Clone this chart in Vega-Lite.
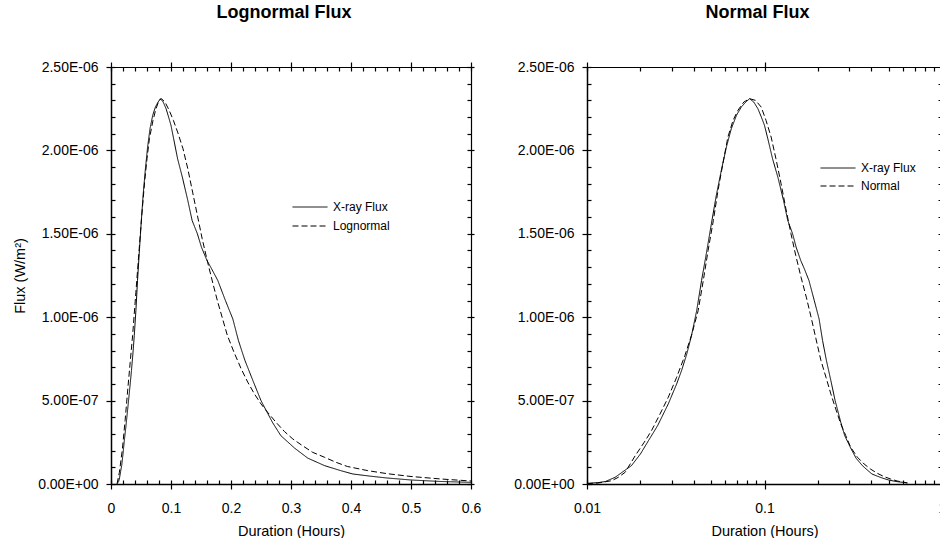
{
  "$schema": "https://vega.github.io/schema/vega-lite/v6.json",
  "padding": {"left": 12, "top": 4, "right": 0, "bottom": 0},
  "spacing": 32,
  "background": "white",
  "datasets": {
    "xray": [
      {"t": 0.0100, "F": 0.004e-6, "series": "X-ray Flux"},
      {"t": 0.0115, "F": 0.008e-6, "series": "X-ray Flux"},
      {"t": 0.0127, "F": 0.015e-6, "series": "X-ray Flux"},
      {"t": 0.0144, "F": 0.04e-6, "series": "X-ray Flux"},
      {"t": 0.0160, "F": 0.075e-6, "series": "X-ray Flux"},
      {"t": 0.0178, "F": 0.11e-6, "series": "X-ray Flux"},
      {"t": 0.0200, "F": 0.18e-6, "series": "X-ray Flux"},
      {"t": 0.0222, "F": 0.26e-6, "series": "X-ray Flux"},
      {"t": 0.0250, "F": 0.35e-6, "series": "X-ray Flux"},
      {"t": 0.0287, "F": 0.48e-6, "series": "X-ray Flux"},
      {"t": 0.0320, "F": 0.60e-6, "series": "X-ray Flux"},
      {"t": 0.0341, "F": 0.68e-6, "series": "X-ray Flux"},
      {"t": 0.0365, "F": 0.78e-6, "series": "X-ray Flux"},
      {"t": 0.0388, "F": 0.89e-6, "series": "X-ray Flux"},
      {"t": 0.0415, "F": 1.04e-6, "series": "X-ray Flux"},
      {"t": 0.0442, "F": 1.22e-6, "series": "X-ray Flux"},
      {"t": 0.0470, "F": 1.38e-6, "series": "X-ray Flux"},
      {"t": 0.0502, "F": 1.56e-6, "series": "X-ray Flux"},
      {"t": 0.0535, "F": 1.73e-6, "series": "X-ray Flux"},
      {"t": 0.0571, "F": 1.88e-6, "series": "X-ray Flux"},
      {"t": 0.0610, "F": 2.02e-6, "series": "X-ray Flux"},
      {"t": 0.0650, "F": 2.13e-6, "series": "X-ray Flux"},
      {"t": 0.0695, "F": 2.21e-6, "series": "X-ray Flux"},
      {"t": 0.0740, "F": 2.26e-6, "series": "X-ray Flux"},
      {"t": 0.0785, "F": 2.29e-6, "series": "X-ray Flux"},
      {"t": 0.0824, "F": 2.31e-6, "series": "X-ray Flux"},
      {"t": 0.0870, "F": 2.29e-6, "series": "X-ray Flux"},
      {"t": 0.0918, "F": 2.25e-6, "series": "X-ray Flux"},
      {"t": 0.0960, "F": 2.20e-6, "series": "X-ray Flux"},
      {"t": 0.1000, "F": 2.15e-6, "series": "X-ray Flux"},
      {"t": 0.1044, "F": 2.07e-6, "series": "X-ray Flux"},
      {"t": 0.1110, "F": 1.95e-6, "series": "X-ray Flux"},
      {"t": 0.1189, "F": 1.84e-6, "series": "X-ray Flux"},
      {"t": 0.1280, "F": 1.70e-6, "series": "X-ray Flux"},
      {"t": 0.1352, "F": 1.58e-6, "series": "X-ray Flux"},
      {"t": 0.1440, "F": 1.50e-6, "series": "X-ray Flux"},
      {"t": 0.1507, "F": 1.42e-6, "series": "X-ray Flux"},
      {"t": 0.1600, "F": 1.34e-6, "series": "X-ray Flux"},
      {"t": 0.1677, "F": 1.29e-6, "series": "X-ray Flux"},
      {"t": 0.1780, "F": 1.22e-6, "series": "X-ray Flux"},
      {"t": 0.1907, "F": 1.10e-6, "series": "X-ray Flux"},
      {"t": 0.2030, "F": 0.99e-6, "series": "X-ray Flux"},
      {"t": 0.2124, "F": 0.86e-6, "series": "X-ray Flux"},
      {"t": 0.2233, "F": 0.74e-6, "series": "X-ray Flux"},
      {"t": 0.2365, "F": 0.62e-6, "series": "X-ray Flux"},
      {"t": 0.2500, "F": 0.50e-6, "series": "X-ray Flux"},
      {"t": 0.2690, "F": 0.37e-6, "series": "X-ray Flux"},
      {"t": 0.2830, "F": 0.29e-6, "series": "X-ray Flux"},
      {"t": 0.3060, "F": 0.215e-6, "series": "X-ray Flux"},
      {"t": 0.3280, "F": 0.155e-6, "series": "X-ray Flux"},
      {"t": 0.3560, "F": 0.11e-6, "series": "X-ray Flux"},
      {"t": 0.3830, "F": 0.08e-6, "series": "X-ray Flux"},
      {"t": 0.4030, "F": 0.06e-6, "series": "X-ray Flux"},
      {"t": 0.4320, "F": 0.047e-6, "series": "X-ray Flux"},
      {"t": 0.4600, "F": 0.036e-6, "series": "X-ray Flux"},
      {"t": 0.5000, "F": 0.024e-6, "series": "X-ray Flux"},
      {"t": 0.5500, "F": 0.015e-6, "series": "X-ray Flux"},
      {"t": 0.6000, "F": 0.010e-6, "series": "X-ray Flux"},
      {"t": 0.6360, "F": 0.007e-6, "series": "X-ray Flux"}
    ],
    "lognormal": [
      {"t": 0.0100, "F": 0.0, "series": "Lognormal"},
      {"t": 0.0140, "F": 0.07e-6, "series": "Lognormal"},
      {"t": 0.0190, "F": 0.21e-6, "series": "Lognormal"},
      {"t": 0.0235, "F": 0.38e-6, "series": "Lognormal"},
      {"t": 0.0280, "F": 0.57e-6, "series": "Lognormal"},
      {"t": 0.0320, "F": 0.73e-6, "series": "Lognormal"},
      {"t": 0.0360, "F": 0.89e-6, "series": "Lognormal"},
      {"t": 0.0415, "F": 1.15e-6, "series": "Lognormal"},
      {"t": 0.0470, "F": 1.41e-6, "series": "Lognormal"},
      {"t": 0.0515, "F": 1.62e-6, "series": "Lognormal"},
      {"t": 0.0560, "F": 1.81e-6, "series": "Lognormal"},
      {"t": 0.0600, "F": 1.95e-6, "series": "Lognormal"},
      {"t": 0.0640, "F": 2.07e-6, "series": "Lognormal"},
      {"t": 0.0700, "F": 2.18e-6, "series": "Lognormal"},
      {"t": 0.0750, "F": 2.25e-6, "series": "Lognormal"},
      {"t": 0.0800, "F": 2.30e-6, "series": "Lognormal"},
      {"t": 0.0840, "F": 2.31e-6, "series": "Lognormal"},
      {"t": 0.0900, "F": 2.29e-6, "series": "Lognormal"},
      {"t": 0.0970, "F": 2.24e-6, "series": "Lognormal"},
      {"t": 0.1040, "F": 2.18e-6, "series": "Lognormal"},
      {"t": 0.1110, "F": 2.11e-6, "series": "Lognormal"},
      {"t": 0.1200, "F": 2.01e-6, "series": "Lognormal"},
      {"t": 0.1280, "F": 1.89e-6, "series": "Lognormal"},
      {"t": 0.1360, "F": 1.75e-6, "series": "Lognormal"},
      {"t": 0.1440, "F": 1.61e-6, "series": "Lognormal"},
      {"t": 0.1520, "F": 1.47e-6, "series": "Lognormal"},
      {"t": 0.1610, "F": 1.33e-6, "series": "Lognormal"},
      {"t": 0.1700, "F": 1.20e-6, "series": "Lognormal"},
      {"t": 0.1780, "F": 1.09e-6, "series": "Lognormal"},
      {"t": 0.1860, "F": 0.99e-6, "series": "Lognormal"},
      {"t": 0.1940, "F": 0.89e-6, "series": "Lognormal"},
      {"t": 0.2050, "F": 0.79e-6, "series": "Lognormal"},
      {"t": 0.2170, "F": 0.69e-6, "series": "Lognormal"},
      {"t": 0.2280, "F": 0.61e-6, "series": "Lognormal"},
      {"t": 0.2390, "F": 0.54e-6, "series": "Lognormal"},
      {"t": 0.2500, "F": 0.48e-6, "series": "Lognormal"},
      {"t": 0.2610, "F": 0.43e-6, "series": "Lognormal"},
      {"t": 0.2750, "F": 0.37e-6, "series": "Lognormal"},
      {"t": 0.2890, "F": 0.315e-6, "series": "Lognormal"},
      {"t": 0.3030, "F": 0.27e-6, "series": "Lognormal"},
      {"t": 0.3170, "F": 0.235e-6, "series": "Lognormal"},
      {"t": 0.3360, "F": 0.19e-6, "series": "Lognormal"},
      {"t": 0.3560, "F": 0.16e-6, "series": "Lognormal"},
      {"t": 0.3750, "F": 0.13e-6, "series": "Lognormal"},
      {"t": 0.3940, "F": 0.105e-6, "series": "Lognormal"},
      {"t": 0.4280, "F": 0.08e-6, "series": "Lognormal"},
      {"t": 0.4600, "F": 0.062e-6, "series": "Lognormal"},
      {"t": 0.5000, "F": 0.045e-6, "series": "Lognormal"},
      {"t": 0.5500, "F": 0.03e-6, "series": "Lognormal"},
      {"t": 0.6000, "F": 0.018e-6, "series": "Lognormal"}
    ],
    "normal": [
      {"t": 0.0100, "F": 0.002e-6, "series": "Normal"},
      {"t": 0.0116, "F": 0.006e-6, "series": "Normal"},
      {"t": 0.0138, "F": 0.02e-6, "series": "Normal"},
      {"t": 0.0150, "F": 0.04e-6, "series": "Normal"},
      {"t": 0.0164, "F": 0.07e-6, "series": "Normal"},
      {"t": 0.0187, "F": 0.17e-6, "series": "Normal"},
      {"t": 0.0210, "F": 0.25e-6, "series": "Normal"},
      {"t": 0.0231, "F": 0.32e-6, "series": "Normal"},
      {"t": 0.0258, "F": 0.42e-6, "series": "Normal"},
      {"t": 0.0287, "F": 0.52e-6, "series": "Normal"},
      {"t": 0.0320, "F": 0.64e-6, "series": "Normal"},
      {"t": 0.0356, "F": 0.77e-6, "series": "Normal"},
      {"t": 0.0390, "F": 0.90e-6, "series": "Normal"},
      {"t": 0.0423, "F": 1.04e-6, "series": "Normal"},
      {"t": 0.0452, "F": 1.22e-6, "series": "Normal"},
      {"t": 0.0481, "F": 1.40e-6, "series": "Normal"},
      {"t": 0.0515, "F": 1.58e-6, "series": "Normal"},
      {"t": 0.0547, "F": 1.76e-6, "series": "Normal"},
      {"t": 0.0585, "F": 1.93e-6, "series": "Normal"},
      {"t": 0.0622, "F": 2.08e-6, "series": "Normal"},
      {"t": 0.0665, "F": 2.18e-6, "series": "Normal"},
      {"t": 0.0708, "F": 2.24e-6, "series": "Normal"},
      {"t": 0.0765, "F": 2.29e-6, "series": "Normal"},
      {"t": 0.0824, "F": 2.31e-6, "series": "Normal"},
      {"t": 0.0890, "F": 2.30e-6, "series": "Normal"},
      {"t": 0.0958, "F": 2.26e-6, "series": "Normal"},
      {"t": 0.1020, "F": 2.18e-6, "series": "Normal"},
      {"t": 0.1090, "F": 2.08e-6, "series": "Normal"},
      {"t": 0.1160, "F": 1.95e-6, "series": "Normal"},
      {"t": 0.1240, "F": 1.80e-6, "series": "Normal"},
      {"t": 0.1320, "F": 1.65e-6, "series": "Normal"},
      {"t": 0.1410, "F": 1.50e-6, "series": "Normal"},
      {"t": 0.1500, "F": 1.37e-6, "series": "Normal"},
      {"t": 0.1606, "F": 1.24e-6, "series": "Normal"},
      {"t": 0.1720, "F": 1.12e-6, "series": "Normal"},
      {"t": 0.1830, "F": 1.00e-6, "series": "Normal"},
      {"t": 0.1950, "F": 0.87e-6, "series": "Normal"},
      {"t": 0.2080, "F": 0.74e-6, "series": "Normal"},
      {"t": 0.2220, "F": 0.64e-6, "series": "Normal"},
      {"t": 0.2365, "F": 0.54e-6, "series": "Normal"},
      {"t": 0.2520, "F": 0.45e-6, "series": "Normal"},
      {"t": 0.2690, "F": 0.36e-6, "series": "Normal"},
      {"t": 0.2870, "F": 0.29e-6, "series": "Normal"},
      {"t": 0.3060, "F": 0.22e-6, "series": "Normal"},
      {"t": 0.3340, "F": 0.16e-6, "series": "Normal"},
      {"t": 0.3640, "F": 0.12e-6, "series": "Normal"},
      {"t": 0.3950, "F": 0.09e-6, "series": "Normal"},
      {"t": 0.4320, "F": 0.064e-6, "series": "Normal"},
      {"t": 0.4700, "F": 0.045e-6, "series": "Normal"},
      {"t": 0.5130, "F": 0.03e-6, "series": "Normal"},
      {"t": 0.5600, "F": 0.018e-6, "series": "Normal"},
      {"t": 0.6100, "F": 0.01e-6, "series": "Normal"},
      {"t": 0.6400, "F": 0.006e-6, "series": "Normal"}
    ]
  },
  "resolve": {
    "scale": {"x": "independent", "y": "independent", "strokeDash": "independent"},
    "legend": {"strokeDash": "independent"}
  },
  "hconcat": [
    {
      "width": 360,
      "height": 417,
      "title": {"text": "Lognormal Flux", "fontSize": 18, "fontWeight": "bold", "font": "Liberation Sans", "color": "black", "frame": "group", "anchor": "middle", "dx": -7, "offset": 38},
      "resolve": {"axis": {"x": "independent", "y": "independent"}},
      "layer": [
        {
          "data": {"name": "xray"},
          "mark": {"type": "line", "color": "black", "strokeWidth": 1, "clip": true},
          "encoding": {
            "x": {"field": "t", "type": "quantitative", "scale": {"domain": [0, 0.6], "nice": false, "zero": false},
              "axis": {"orient": "bottom", "values": [0, 0.1, 0.2, 0.3, 0.4, 0.5, 0.6], "format": "~g", "ticks": true, "tickSize": 5, "labelPadding": 12, "title": "Duration (Hours)", "titlePadding": 9, "domain": true, "domainWidth": 1.5}},
            "y": {"field": "F", "type": "quantitative", "scale": {"domain": [0, 2.5e-6], "nice": false},
              "axis": {"orient": "left", "values": [0, 5e-7, 1e-6, 1.5e-6, 2e-6, 2.5e-6], "labelExpr": "datum.value == 0 ? '0.00E+00' : datum.value < 9.9e-7 ? format(datum.value*1e7,'.2f') + 'E-07' : format(datum.value*1e6,'.2f') + 'E-06'", "ticks": true, "tickSize": 5, "labelPadding": 8, "title": "Flux (W/m²)", "titlePadding": 10, "domain": true, "domainWidth": 1.5}},
            "strokeDash": {"field": "series", "type": "nominal",
              "scale": {"domain": ["X-ray Flux", "Lognormal"], "range": [[1, 0], [6, 3]]},
              "legend": {"orient": "none", "legendX": 181, "legendY": 131, "title": null, "symbolType": "stroke", "symbolSize": 1225, "symbolStrokeWidth": 1, "symbolStrokeColor": "black", "clipHeight": 18, "rowPadding": 1, "labelFont": "Liberation Sans", "labelFontSize": 12, "labelColor": "black", "labelOffset": 5, "padding": 0}}
          }
        },
        {
          "data": {"name": "lognormal"},
          "mark": {"type": "line", "color": "black", "strokeWidth": 1, "clip": true},
          "encoding": {
            "x": {"field": "t", "type": "quantitative", "scale": {"domain": [0, 0.6], "nice": false, "zero": false},
              "axis": {"orient": "bottom", "values": [0, 0.02, 0.04, 0.06, 0.08, 0.1, 0.12, 0.14, 0.16, 0.18, 0.2, 0.22, 0.24, 0.26, 0.28, 0.3, 0.32, 0.34, 0.36, 0.38, 0.4, 0.42, 0.44, 0.46, 0.48, 0.5, 0.52, 0.54, 0.56, 0.58, 0.6], "ticks": true, "tickSize": -4, "labels": false, "domain": false, "title": null}},
            "y": {"field": "F", "type": "quantitative", "scale": {"domain": [0, 2.5e-6], "nice": false},
              "axis": {"orient": "left", "values": [0, 1e-7, 2e-7, 3e-7, 4e-7, 5e-7, 6e-7, 7e-7, 8e-7, 9e-7, 1e-6, 1.1e-6, 1.2e-6, 1.3e-6, 1.4e-6, 1.5e-6, 1.6e-6, 1.7e-6, 1.8e-6, 1.9e-6, 2e-6, 2.1e-6, 2.2e-6, 2.3e-6, 2.4e-6, 2.5e-6], "ticks": true, "tickSize": -4, "labels": false, "domain": false, "title": null}},
            "strokeDash": {"field": "series", "type": "nominal"}
          }
        },
        {
          "data": {"values": []},
          "mark": {"type": "point", "opacity": 0},
          "encoding": {
            "x": {"field": "t", "type": "quantitative", "scale": {"domain": [0, 0.6], "nice": false, "zero": false},
              "axis": {"orient": "top", "values": [0, 0.1, 0.2, 0.3, 0.4, 0.5, 0.6], "ticks": true, "tickSize": 5, "labels": false, "domain": true, "domainWidth": 1.2, "title": null}},
            "y": {"field": "F", "type": "quantitative", "scale": {"domain": [0, 2.5e-6], "nice": false},
              "axis": {"orient": "right", "values": [0, 5e-7, 1e-6, 1.5e-6, 2e-6, 2.5e-6], "ticks": true, "tickSize": 3, "labels": false, "domain": true, "domainWidth": 1.2, "title": null}}
          }
        },
        {
          "data": {"values": []},
          "mark": {"type": "point", "opacity": 0},
          "encoding": {
            "x": {"field": "t", "type": "quantitative", "scale": {"domain": [0, 0.6], "nice": false, "zero": false},
              "axis": {"orient": "top", "values": [0, 0.02, 0.04, 0.06, 0.08, 0.1, 0.12, 0.14, 0.16, 0.18, 0.2, 0.22, 0.24, 0.26, 0.28, 0.3, 0.32, 0.34, 0.36, 0.38, 0.4, 0.42, 0.44, 0.46, 0.48, 0.5, 0.52, 0.54, 0.56, 0.58, 0.6], "ticks": true, "tickSize": -4, "labels": false, "domain": false, "title": null}},
            "y": {"field": "F", "type": "quantitative", "scale": {"domain": [0, 2.5e-6], "nice": false},
              "axis": {"orient": "right", "values": [0, 1e-7, 2e-7, 3e-7, 4e-7, 5e-7, 6e-7, 7e-7, 8e-7, 9e-7, 1e-6, 1.1e-6, 1.2e-6, 1.3e-6, 1.4e-6, 1.5e-6, 1.6e-6, 1.7e-6, 1.8e-6, 1.9e-6, 2e-6, 2.1e-6, 2.2e-6, 2.3e-6, 2.4e-6, 2.5e-6], "ticks": true, "tickSize": -4, "labels": false, "domain": false, "title": null}}
          }
        }
      ]
    },
    {
      "width": 355,
      "height": 417,
      "title": {"text": "Normal Flux", "fontSize": 18, "fontWeight": "bold", "font": "Liberation Sans", "color": "black", "frame": "group", "anchor": "middle", "dx": -7, "offset": 38},
      "resolve": {"axis": {"x": "independent", "y": "independent"}},
      "layer": [
        {
          "data": {"name": "xray"},
          "mark": {"type": "line", "color": "black", "strokeWidth": 1, "clip": true},
          "encoding": {
            "x": {"field": "t", "type": "quantitative", "scale": {"type": "log", "domain": [0.01, 1], "nice": false},
              "axis": {"orient": "bottom", "values": [0.01, 0.1, 1], "format": "~g", "ticks": true, "tickSize": 5, "labelPadding": 12, "title": "Duration (Hours)", "titlePadding": 9, "domain": true, "domainWidth": 1.5}},
            "y": {"field": "F", "type": "quantitative", "scale": {"domain": [0, 2.5e-6], "nice": false},
              "axis": {"orient": "left", "values": [0, 5e-7, 1e-6, 1.5e-6, 2e-6, 2.5e-6], "labelExpr": "datum.value == 0 ? '0.00E+00' : datum.value < 9.9e-7 ? format(datum.value*1e7,'.2f') + 'E-07' : format(datum.value*1e6,'.2f') + 'E-06'", "ticks": true, "tickSize": 5, "labelPadding": 8, "title": null, "domain": true, "domainWidth": 1.5}},
            "strokeDash": {"field": "series", "type": "nominal",
              "scale": {"domain": ["X-ray Flux", "Normal"], "range": [[1, 0], [6, 3]]},
              "legend": {"orient": "none", "legendX": 233, "legendY": 92, "title": null, "symbolType": "stroke", "symbolSize": 1225, "symbolStrokeWidth": 1, "symbolStrokeColor": "black", "clipHeight": 18, "rowPadding": 0, "labelFont": "Liberation Sans", "labelFontSize": 12, "labelColor": "black", "labelOffset": 5, "padding": 0}}
          }
        },
        {
          "data": {"name": "normal"},
          "mark": {"type": "line", "color": "black", "strokeWidth": 1, "clip": true},
          "encoding": {
            "x": {"field": "t", "type": "quantitative", "scale": {"type": "log", "domain": [0.01, 1], "nice": false},
              "axis": {"orient": "bottom", "values": [0.01, 0.02, 0.03, 0.04, 0.05, 0.06, 0.07, 0.08, 0.09, 0.1, 0.2, 0.3, 0.4, 0.5, 0.6, 0.7, 0.8, 0.9, 1], "ticks": true, "tickSize": -4, "labels": false, "domain": false, "title": null}},
            "y": {"field": "F", "type": "quantitative", "scale": {"domain": [0, 2.5e-6], "nice": false},
              "axis": {"orient": "left", "values": [0, 1e-7, 2e-7, 3e-7, 4e-7, 5e-7, 6e-7, 7e-7, 8e-7, 9e-7, 1e-6, 1.1e-6, 1.2e-6, 1.3e-6, 1.4e-6, 1.5e-6, 1.6e-6, 1.7e-6, 1.8e-6, 1.9e-6, 2e-6, 2.1e-6, 2.2e-6, 2.3e-6, 2.4e-6, 2.5e-6], "ticks": true, "tickSize": -4, "labels": false, "domain": false, "title": null}},
            "strokeDash": {"field": "series", "type": "nominal"}
          }
        },
        {
          "data": {"values": []},
          "mark": {"type": "point", "opacity": 0},
          "encoding": {
            "x": {"field": "t", "type": "quantitative", "scale": {"type": "log", "domain": [0.01, 1], "nice": false},
              "axis": {"orient": "top", "values": [0.01, 0.1, 1], "ticks": true, "tickSize": 5, "labels": false, "domain": true, "domainWidth": 1.2, "title": null}},
            "y": {"field": "F", "type": "quantitative", "scale": {"domain": [0, 2.5e-6], "nice": false},
              "axis": {"orient": "right", "values": [0, 5e-7, 1e-6, 1.5e-6, 2e-6, 2.5e-6], "ticks": false, "labels": false, "domain": true, "domainWidth": 1.2, "title": null}}
          }
        },
        {
          "data": {"values": []},
          "mark": {"type": "point", "opacity": 0},
          "encoding": {
            "x": {"field": "t", "type": "quantitative", "scale": {"type": "log", "domain": [0.01, 1], "nice": false},
              "axis": {"orient": "top", "values": [0.01, 0.02, 0.03, 0.04, 0.05, 0.06, 0.07, 0.08, 0.09, 0.1, 0.2, 0.3, 0.4, 0.5, 0.6, 0.7, 0.8, 0.9, 1], "ticks": true, "tickSize": -4, "labels": false, "domain": false, "title": null}},
            "y": {"field": "F", "type": "quantitative", "scale": {"domain": [0, 2.5e-6], "nice": false},
              "axis": {"orient": "right", "values": [0, 1e-7, 2e-7, 3e-7, 4e-7, 5e-7, 6e-7, 7e-7, 8e-7, 9e-7, 1e-6, 1.1e-6, 1.2e-6, 1.3e-6, 1.4e-6, 1.5e-6, 1.6e-6, 1.7e-6, 1.8e-6, 1.9e-6, 2e-6, 2.1e-6, 2.2e-6, 2.3e-6, 2.4e-6, 2.5e-6], "ticks": true, "tickSize": -4, "labels": false, "domain": false, "title": null}}
          }
        }
      ]
    }
  ],
  "config": {
    "font": "Liberation Sans",
    "view": {"stroke": null},
    "axis": {
      "labelFont": "Liberation Sans", "labelFontSize": 14, "labelColor": "black",
      "titleFont": "Liberation Sans", "titleFontSize": 14.5, "titleFontWeight": "normal", "titleColor": "black",
      "ticks": true, "tickColor": "black", "tickOpacity": 1, "tickWidth": 1.2, "domainColor": "black", "grid": false, "labelFlush": false, "labelOverlap": false
    }
  }
}
